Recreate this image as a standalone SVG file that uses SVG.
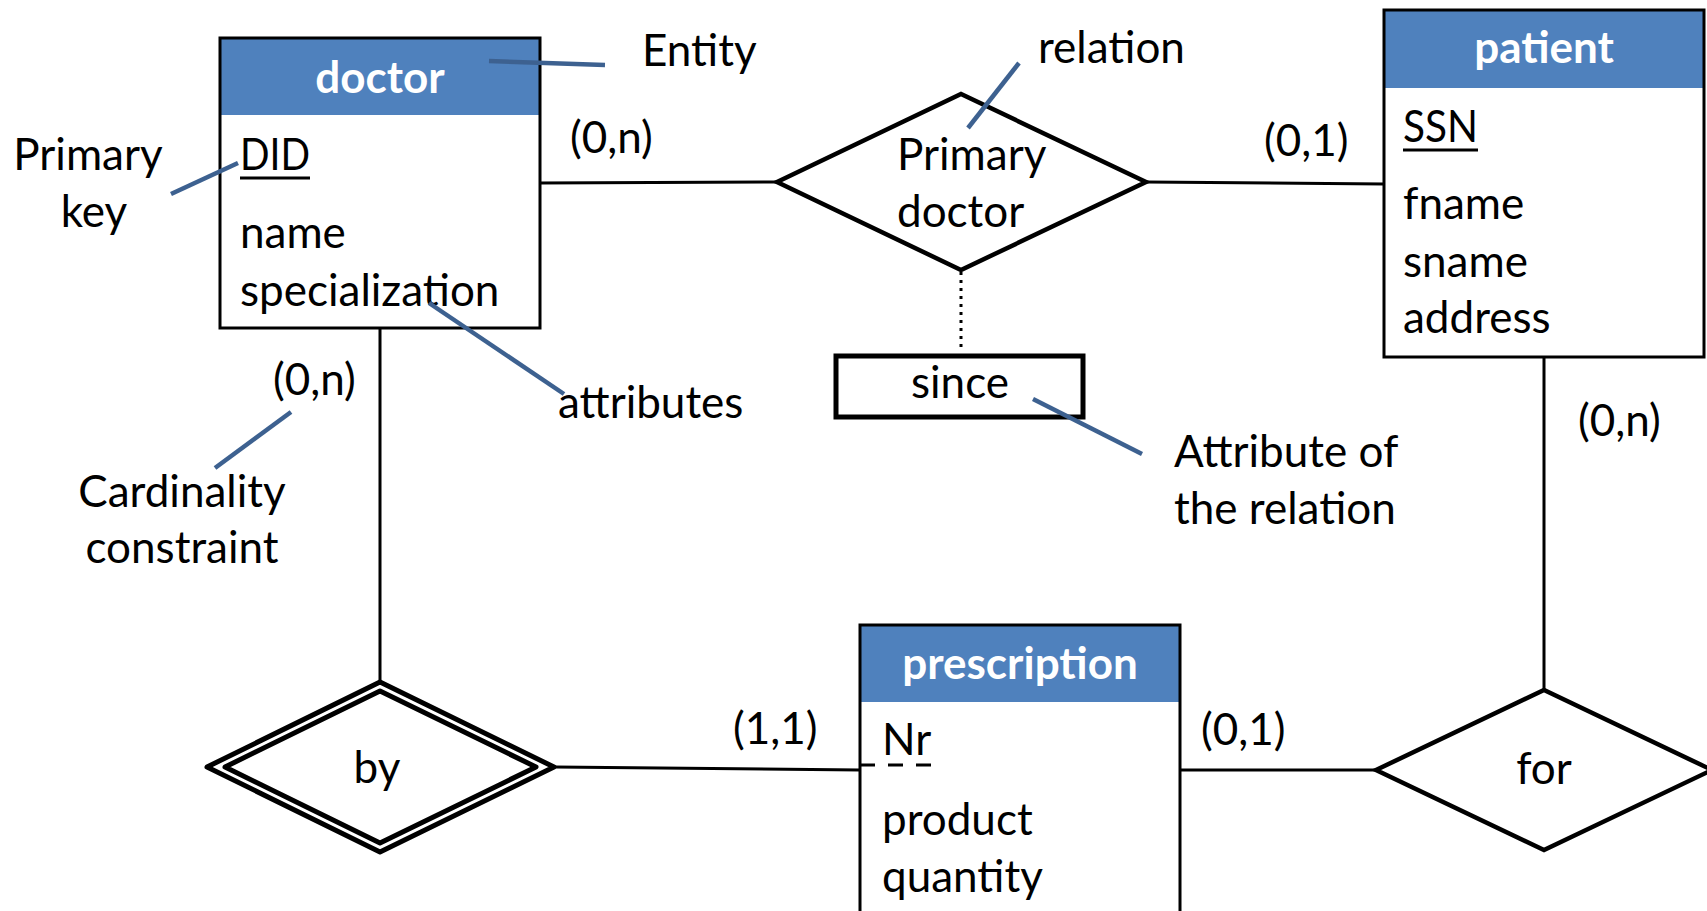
<svg xmlns="http://www.w3.org/2000/svg" width="1707" height="911" viewBox="0 0 1707 911">
<style>
text{font-family:Lato,"Open Sans","Liberation Sans",sans-serif;font-size:44px;fill:#000}
.hd{font-weight:bold;fill:#fff;text-anchor:middle}
.mid{text-anchor:middle}
.box{fill:#fff;stroke:none}
.frame{fill:none;stroke:#000;stroke-width:3}
.head{fill:#4F81BD}
.conn{stroke:#000;stroke-width:3;fill:none}
.ann{stroke:#3D6190;stroke-width:4.5;fill:none}
.dia{fill:#fff;stroke:#000;stroke-width:4.5;stroke-linejoin:miter}
.ul{stroke:#000;stroke-width:3}
</style>
<rect width="1707" height="911" fill="#fff"/>
<g id="connectors">
<line class="conn" x1="540" y1="183" x2="777" y2="182"/>
<line class="conn" x1="1146" y1="182" x2="1384" y2="184"/>
<line class="conn" x1="961" y1="272" x2="961" y2="352" stroke-dasharray="3 5"/>
<line class="conn" x1="380" y1="328" x2="380" y2="682"/>
<line class="conn" x1="555" y1="767" x2="860" y2="770"/>
<line class="conn" x1="1180" y1="770" x2="1376" y2="770"/>
<line class="conn" x1="1544" y1="357" x2="1544" y2="690"/>
</g>
<g id="doctor">
<rect class="box" x="220" y="38" width="320" height="290"/>
<rect class="head" x="220" y="38" width="320" height="77"/>
<rect class="frame" x="220" y="38" width="320" height="290"/>
<text class="hd" x="380" y="93">doctor</text>
<text x="240" y="170" textLength="70" lengthAdjust="spacingAndGlyphs">DID</text>
<line class="ul" x1="240" y1="178" x2="310" y2="178"/>
<text x="240" y="248">name</text>
<text x="240" y="306">specialization</text>
</g>
<g id="patient">
<rect class="box" x="1384" y="10" width="320" height="347"/>
<rect class="head" x="1384" y="10" width="320" height="78"/>
<rect class="frame" x="1384" y="10" width="320" height="347"/>
<text class="hd" x="1544" y="63">patient</text>
<text x="1403" y="142" textLength="75" lengthAdjust="spacingAndGlyphs">SSN</text>
<line class="ul" x1="1403" y1="150" x2="1478" y2="150"/>
<text x="1403" y="219">fname</text>
<text x="1403" y="277">sname</text>
<text x="1403" y="333">address</text>
</g>
<g id="prescription">
<rect class="box" x="860" y="625" width="320" height="300"/>
<rect class="head" x="860" y="625" width="320" height="77"/>
<rect class="frame" x="860" y="625" width="320" height="300"/>
<text class="hd" x="1020" y="679">prescription</text>
<text x="882" y="755">Nr</text>
<line class="ul" x1="860" y1="765" x2="934" y2="765" stroke-dasharray="15 13"/>
<text x="882" y="835">product</text>
<text x="882" y="892">quantity</text>
</g>
<g id="primary-doctor">
<polygon class="dia" points="777,182 961,94 1146,182 961,270"/>
<text x="897" y="170">Primary</text>
<text x="897" y="227">doctor</text>
</g>
<g id="since">
<rect x="836" y="356" width="247" height="61" fill="#fff" stroke="#000" stroke-width="5"/>
<text class="mid" x="960" y="398">since</text>
</g>
<g id="by">
<polygon points="207,767 380,682 554,767 380,852" fill="#fff" stroke="#000" stroke-width="5" stroke-linejoin="round"/>
<polygon points="225,767 380,691 536,767 380,843" fill="#fff" stroke="#000" stroke-width="5" stroke-linejoin="round"/>
<text class="mid" x="377" y="783">by</text>
</g>
<g id="for">
<polygon class="dia" points="1376,770 1544,690 1712,770 1544,850"/>
<text class="mid" x="1544" y="784">for</text>
</g>
<g id="cardinalities">
<text x="570" y="153">(0,n)</text>
<text x="1264" y="156">(0,1)</text>
<text x="273" y="395">(0,n)</text>
<text x="1578" y="436">(0,n)</text>
<text x="733" y="744">(1,1)</text>
<text x="1201" y="745">(0,1)</text>
</g>
<g id="annotations">
<line class="ann" x1="489" y1="61" x2="605" y2="65"/>
<line class="ann" x1="238" y1="163" x2="171" y2="194"/>
<line class="ann" x1="429" y1="303" x2="564" y2="394"/>
<line class="ann" x1="291" y1="412" x2="215" y2="468"/>
<line class="ann" x1="1019" y1="63" x2="968" y2="128"/>
<line class="ann" x1="1033" y1="399" x2="1142" y2="454"/>
<text x="642" y="66">Entity</text>
<text x="1038" y="63">relation</text>
<text class="mid" x="88" y="170">Primary</text>
<text class="mid" x="94" y="227">key</text>
<text x="558" y="418">attributes</text>
<text class="mid" x="182" y="507">Cardinality</text>
<text class="mid" x="182" y="563">constraint</text>
<text x="1174" y="467">Attribute of</text>
<text x="1174" y="524">the relation</text>
</g>
</svg>
